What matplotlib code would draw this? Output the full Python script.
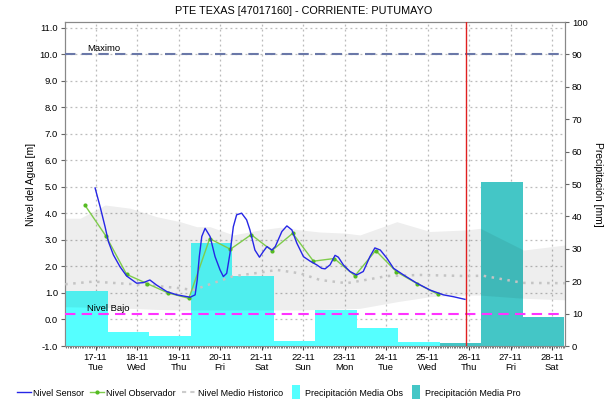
import matplotlib
matplotlib.use('Agg')
import matplotlib.pyplot as plt
from matplotlib.lines import Line2D
from matplotlib.ticker import MultipleLocator, FormatStrFormatter

plt.rcParams['font.family'] = ['Liberation Sans', 'DejaVu Sans']

# time in days of November (17.0 = 17-11 00:00)
day_ticks = [17, 18, 19, 20, 21, 22, 23, 24, 25, 26, 27, 28]
weekdays = ['Tue', 'Wed', 'Thu', 'Fri', 'Sat', 'Sun', 'Mon', 'Tue', 'Wed', 'Thu', 'Fri', 'Sat']
tick_labels = [f'{d}-11\n{w}' for d, w in zip(day_ticks, weekdays)]

# water level from the sensor [m]
sensor_t = [16.99, 17.11, 17.23, 17.31, 17.43, 17.59, 17.75, 17.99, 18.15, 18.31,
            18.47, 18.72, 18.96, 19.28, 19.40, 19.45, 19.50, 19.56, 19.64, 19.76,
            19.88, 20.00, 20.08, 20.16, 20.24, 20.32, 20.40, 20.52, 20.64, 20.72,
            20.84, 20.95, 21.04, 21.13, 21.25, 21.33, 21.49, 21.61, 21.73, 21.85,
            22.01, 22.17, 22.33, 22.45, 22.53, 22.65, 22.77, 22.85, 22.97, 23.13,
            23.29, 23.45, 23.61, 23.73, 23.86, 24.02, 24.18, 24.42, 24.74, 25.06,
            25.38, 25.62, 25.90]
sensor_level = [4.96, 4.26, 3.50, 2.94, 2.44, 1.99, 1.64, 1.37, 1.39, 1.49,
                1.30, 1.05, 0.93, 0.84, 0.93, 1.49, 2.37, 3.13, 3.44, 3.13,
                2.37, 1.87, 1.62, 1.74, 2.50, 3.50, 3.95, 4.01, 3.76, 3.38,
                2.62, 2.35, 2.56, 2.75, 2.62, 2.75, 3.32, 3.53, 3.38, 2.88,
                2.37, 2.20, 2.06, 1.93, 1.91, 2.06, 2.42, 2.35, 2.06, 1.81,
                1.68, 1.81, 2.37, 2.70, 2.62, 2.31, 1.93, 1.68, 1.37, 1.11,
                0.93, 0.86, 0.76]

# readings by the observer [m]
obs_t = [16.75, 17.25, 17.75, 18.25, 18.75, 19.25, 19.75, 20.25, 20.75,
         21.25, 21.75, 22.25, 22.75, 23.25, 23.75, 24.25, 24.75, 25.25]
obs_level = [4.30, 3.15, 1.70, 1.35, 1.00, 0.80, 3.05, 2.65, 3.20,
             2.60, 3.25, 2.20, 2.30, 1.65, 2.60, 1.80, 1.35, 0.95]

# historic envelope and mean [m]
hist_t = [16.27, 16.63, 17.23, 17.83, 18.47, 19.04, 19.44, 19.76, 20.32, 20.96,
          21.45, 21.93, 22.41, 23.01, 23.37, 24.26, 25.06, 25.94, 26.27, 27.31, 28.31]
hist_max = [3.82, 3.82, 4.32, 4.20, 3.88, 3.69, 3.50, 3.50, 3.19, 3.38,
            3.48, 3.38, 3.30, 3.26, 3.19, 3.69, 3.32, 3.38, 3.44, 2.62, 2.81]
hist_min = [0.48, 0.47, 0.45, 0.42, 0.38, 0.36, 0.36, 0.36, 0.36, 0.36,
            0.36, 0.36, 0.38, 0.40, 0.42, 0.67, 0.86, 0.92, 0.92, 0.80, 0.74]
mean_t = [16.27, 16.95, 17.42, 18.23, 19.04, 19.35, 19.83, 20.31, 20.96, 21.37,
          21.93, 22.41, 23.05, 23.61, 24.02, 24.82, 25.94, 26.34, 27.30, 28.31]
mean_level = [1.33, 1.43, 1.38, 1.30, 1.18, 1.11, 1.37, 1.63, 1.77, 1.87,
              1.74, 1.49, 1.37, 1.52, 1.64, 1.68, 1.64, 1.65, 1.38, 1.37]

# daily precipitation (07:00 to 07:00) [mm]
precip_obs_start = [15.29, 16.29, 17.29, 18.29, 19.29, 20.29, 21.29, 22.29, 23.29, 24.29]
precip_obs = [20.0, 17.1, 4.4, 3.2, 31.9, 21.7, 1.6, 11.1, 5.6, 1.2]
precip_pro_start = [25.29, 26.29, 27.29]
precip_pro = [1.0, 50.5, 8.9]

level_max = 10.0
level_low = 0.2
now_t = 25.92

fig = plt.figure(figsize=(6.08, 4.04), dpi=100)
rect = [65 / 608, 1 - 346 / 404, 500 / 608, 324 / 404]
ax = fig.add_axes(rect)
ax2 = ax.twinx()
ax3 = fig.add_axes(rect, sharex=ax, sharey=ax)
ax.set_zorder(0)
ax2.set_zorder(1)
ax3.set_zorder(2)
ax3.set_axis_off()

ax.set_xlim(16.265, 28.31)
ax.set_ylim(-1, 11.222)
ax2.set_ylim(0, 100)

# grid lives on the bottom axes so the bars cover it
ax.set_xticks(day_ticks)
ax.set_xticklabels(tick_labels, fontsize=6.8)
ax.xaxis.set_minor_locator(MultipleLocator(1 / 24))
ax.yaxis.set_major_locator(MultipleLocator(1.0))
ax.yaxis.set_major_formatter(FormatStrFormatter('%.1f'))
ax.grid(True, color='#bbbbbb', linestyle=(0, (1.5, 2.5)), linewidth=0.9)
ax.tick_params(axis='y', labelsize=6.8, length=3, color='#666666', pad=2)
ax.tick_params(axis='x', which='major', length=3, color='#444444', pad=2)
ax.tick_params(axis='x', which='minor', length=1.5, width=0.5, color='#444444')
ax2.yaxis.set_major_locator(MultipleLocator(10))
ax2.tick_params(axis='y', labelsize=6.8, length=3, color='#666666', pad=2)
for a in (ax, ax2):
    for s in a.spines.values():
        s.set_color('#888888')
        s.set_linewidth(0.8)

ax2.bar(precip_obs_start, precip_obs, width=1.0, align='edge', color='#55ffff', linewidth=0)
ax2.bar(precip_pro_start, precip_pro, width=1.0, align='edge', color='#44c6c6', linewidth=0)

ax3.fill_between(hist_t, hist_min, hist_max, color='black', alpha=0.065, linewidth=0)
ax3.plot(mean_t, mean_level, color='#c4c4c4', linewidth=1.8, linestyle=(0, (1, 2.2)))
ax3.axhline(level_max, color='#6a78a8', linewidth=1.5, linestyle=(0, (5, 3)))
ax3.axhline(level_low, color='#ff33ff', linewidth=1.5, linestyle=(0, (5, 3)))
ax3.text(16.8, level_max + 0.05, 'Maximo', fontsize=6.8, va='bottom')
ax3.text(16.8, level_low + 0.05, 'Nivel Bajo', fontsize=6.8, va='bottom')
ax3.axvline(now_t, color='#e02020', linewidth=1.0)
ax3.plot(obs_t, obs_level, color='#7fcc4c', linewidth=1.0, marker='o',
         markersize=3, markerfacecolor='#55bb22', markeredgewidth=0)
ax3.plot(sensor_t, sensor_level, color='#2626e6', linewidth=1.0)

ax.set_ylabel('Nivel del Agua [m]', fontsize=7.4, labelpad=3)
ax2.set_ylabel('Precipitación [mm]', fontsize=7.4, rotation=270, labelpad=11)
fig.text(0.5, 1 - 11 / 404, 'PTE TEXAS [47017160] - CORRIENTE: PUTUMAYO',
         fontsize=7.8, ha='center', va='center')

# narrow upright boxes for the precipitation entries
box = [(-0.3, -0.5), (0.3, -0.5), (0.3, 0.5), (-0.3, 0.5)]
handles = [
    Line2D([], [], color='#2626e6', linewidth=1.0),
    Line2D([], [], color='#7fcc4c', linewidth=1.0, marker='o', markersize=3,
           markerfacecolor='#55bb22', markeredgewidth=0),
    Line2D([], [], color='#cccccc', linewidth=1.5, linestyle=(0, (2, 2))),
    Line2D([], [], linestyle='none', marker=box, markersize=10,
           markerfacecolor='#55ffff', markeredgewidth=0),
    Line2D([], [], linestyle='none', marker=box, markersize=10,
           markerfacecolor='#44c6c6', markeredgewidth=0),
]
labels = ['Nivel Sensor', 'Nivel Observador', 'Nivel Medio Historico',
          'Precipitación Media Obs', 'Precipitación Media Pro']
fig.legend(handles, labels, loc='center', bbox_to_anchor=(269 / 608, 1 - 393 / 404),
           ncol=5, frameon=False, fontsize=6.5, handlelength=1.5, numpoints=1,
           handletextpad=0.25, columnspacing=0.7)

fig.savefig('out.png', dpi=100)
